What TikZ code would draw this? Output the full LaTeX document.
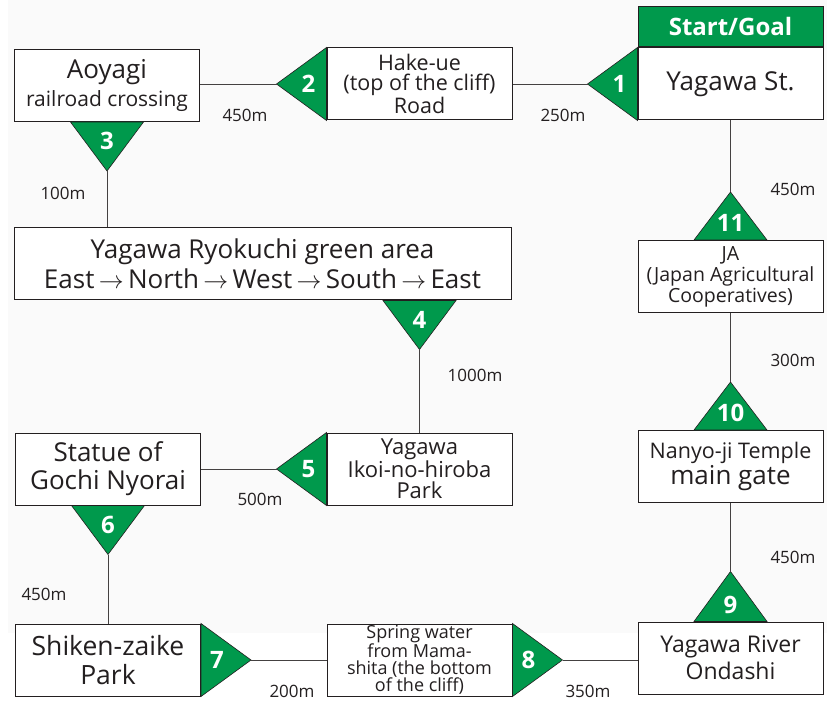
\documentclass[tikz,border=0pt]{standalone}
\usepackage{fontspec}
\setmainfont{Open Sans}
\usetikzlibrary{positioning}
\definecolor{routegreen}{RGB}{0,153,76}
\definecolor{ink}{RGB}{35,31,32}
\definecolor{paper}{RGB}{250,250,250}
\newcommand{\fsz}[2]{\fontsize{#1}{#2}\selectfont}
\tikzset{
  stop/.style={draw=ink, line width=1pt, fill=white, text=ink, minimum width=185pt, minimum height=72pt, inner sep=0pt, align=center},
  flag/.style={fill=routegreen, draw=ink, line width=0.6pt},
  num/.style={text=white, font=\bfseries\fsz{24}{24}, inner sep=0pt},
  dist/.style={text=ink, font=\fsz{17}{17}, inner sep=0pt},
  road/.style={draw=ink!85, line width=0.9pt}
}
\begin{document}
\begin{tikzpicture}[x=1pt,y=-1pt]
\useasboundingbox (0,0) rectangle (827,708);
\fill[paper] (8,0) rectangle (827,633);
% stops
\node[stop, font=\fsz{26}{28}] (yagawa) at (730.5,84) {Yagawa St.};
\node[stop, fill=routegreen, minimum height=40pt, text=white, font=\bfseries\fsz{24}{24}, anchor=south] (goal) at (yagawa.north) {Start/Goal};
\node[stop, font=\fsz{21.5}{20}] (hakeue) at (419.5,84) {Hake-ue\\(top of the cliff)\\Road};
\node[stop, font=\fsz{21}{28}] (aoyagi) at (107,85.5) {{\fsz{26}{28}Aoyagi}\\railroad crossing};
\node[stop, minimum width=497pt, font=\fsz{26}{30}] (ryokuchi) at (262.5,264) {Yagawa Ryokuchi green area\\East\,$\rightarrow$\,North\,$\rightarrow$\,West\,$\rightarrow$\,South\,$\rightarrow$\,East};
\node[stop, font=\fsz{22}{21}] (ikoi) at (419.5,469) {Yagawa\\Ikoi-no-hiroba\\Park};
\node[stop, font=\fsz{26}{28}] (statue) at (108,469) {Statue of\\Gochi Nyorai};
\node[stop, font=\fsz{26.5}{29}] (shiken) at (108,660) {Shiken-zaike\\Park};
\node[stop, font=\fsz{18}{17}] (spring) at (419.5,660) {Spring water\\from Mama-\\shita (the bottom\\of the cliff)};
\node[stop, font=\fsz{23}{27}] (river) at (730.5,658) {Yagawa River\\Ondashi};
\node[stop, font=\fsz{26}{24}] (nanyoji) at (730.5,466.5) {{\fsz{21.5}{24}Nanyo-ji Temple}\\main gate};
\node[stop, font=\fsz{19.5}{21}] (ja) at (730.5,276.5) {JA\\(Japan Agricultural\\Cooperatives)};
% markers
\filldraw[flag] (yagawa.north west) -- (yagawa.south west) -- ([xshift=-50pt]yagawa.west) coordinate (t1) -- cycle;
\node[num] (n1) at ([xshift=-18pt]yagawa.west) {1};
\filldraw[flag] (hakeue.north west) -- (hakeue.south west) -- ([xshift=-50pt]hakeue.west) coordinate (t2) -- cycle;
\node[num] (n2) at ([xshift=-18pt]hakeue.west) {2};
\filldraw[flag] ([xshift=-36.5pt]aoyagi.south) -- ([xshift=36.5pt]aoyagi.south) -- ([yshift=-49pt]aoyagi.south) coordinate (t3) -- cycle;
\node[num] (n3) at ([yshift=-19pt]aoyagi.south) {3};
\coordinate (b4) at (ryokuchi.south -| ikoi.north);
\filldraw[flag] ([xshift=-36.5pt]b4) -- ([xshift=36.5pt]b4) -- ([yshift=-49pt]b4) coordinate (t4) -- cycle;
\node[num] (n4) at ([yshift=-19pt]b4) {4};
\filldraw[flag] (ikoi.north west) -- (ikoi.south west) -- ([xshift=-50pt]ikoi.west) coordinate (t5) -- cycle;
\node[num] (n5) at ([xshift=-18pt]ikoi.west) {5};
\filldraw[flag] ([xshift=-36.5pt]statue.south) -- ([xshift=36.5pt]statue.south) -- ([yshift=-49pt]statue.south) coordinate (t6) -- cycle;
\node[num] (n6) at ([yshift=-19pt]statue.south) {6};
\filldraw[flag] (shiken.north east) -- (shiken.south east) -- ([xshift=50pt]shiken.east) coordinate (t7) -- cycle;
\node[num] (n7) at ([xshift=16pt]shiken.east) {7};
\filldraw[flag] (spring.north east) -- (spring.south east) -- ([xshift=50pt]spring.east) coordinate (t8) -- cycle;
\node[num] (n8) at ([xshift=16pt]spring.east) {8};
\filldraw[flag] ([xshift=-36.5pt]river.north) -- ([xshift=36.5pt]river.north) -- ([yshift=50pt]river.north) coordinate (t9) -- cycle;
\node[num] (n9) at ([yshift=17pt]river.north) {9};
\filldraw[flag] ([xshift=-36.5pt]nanyoji.north) -- ([xshift=36.5pt]nanyoji.north) -- ([yshift=48pt]nanyoji.north) coordinate (t10) -- cycle;
\node[num] (n10) at ([yshift=17pt]nanyoji.north) {10};
\filldraw[flag] ([xshift=-36.5pt]ja.north) -- ([xshift=36.5pt]ja.north) -- ([yshift=48pt]ja.north) coordinate (t11) -- cycle;
\node[num] (n11) at ([yshift=17pt]ja.north) {11};
% roads
\draw[road] (t1) -- (hakeue.east);
\draw[road] (t2) -- (t2 -| aoyagi.east);
\draw[road] (t3) -- (t3 |- ryokuchi.north);
\draw[road] (t4) -- (ikoi.north);
\draw[road] (t5) -- (statue.east);
\draw[road] (t6) -- (shiken.north);
\draw[road] (t7) -- (spring.west);
\draw[road] (t8) -- (t8 -| river.west);
\draw[road] (t9) -- (nanyoji.south);
\draw[road] (t10) -- (ja.south);
\draw[road] (t11) -- (yagawa.south);
% distances
\node[dist] (d12) at (245,115) {450m};
\node[dist] (d01) at (563,115) {250m};
\node[dist] (d111) at (793,189) {450m};
\node[dist] (d23) at (63,193) {100m};
\node[dist] (d34) at (475,375) {1000m};
\node[dist] (d1011) at (793,360) {300m};
\node[dist] (d45) at (260,499) {500m};
\node[dist] (d56) at (44,594) {450m};
\node[dist] (d910) at (793,557) {450m};
\node[dist] (d67) at (292,691) {200m};
\node[dist] (d78) at (588,691) {350m};
\end{tikzpicture}
\end{document}
